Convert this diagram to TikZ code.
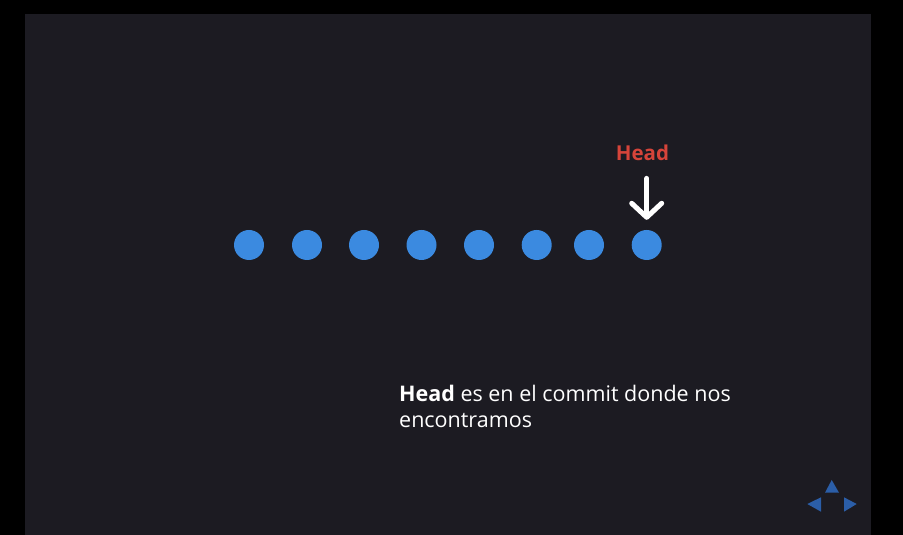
\documentclass[tikz,border=0pt]{standalone}
\usepackage{fontspec}
\setmainfont{Open Sans}
\usetikzlibrary{arrows.meta}
\definecolor{pagebg}{HTML}{000000}
\definecolor{slidebg}{HTML}{1C1B22}
\definecolor{dotblue}{HTML}{3B8AE0}
\definecolor{headred}{HTML}{D6443A}
\definecolor{navblue}{HTML}{2B5EA8}
\begin{document}
\begin{tikzpicture}[x=1pt,y=1pt,
  commit/.style={circle,fill=dotblue,minimum size=30pt,inner sep=0pt},
  navtri/.style={fill=navblue},
  pointer/.style={draw=white,line width=5pt,line cap=round,line join=round,
    -{Straight Barb[length=14pt,width=30pt,round]}},
  bodytext/.style={text=white,font=\fontsize{21.5}{26}\selectfont,anchor=base west,inner sep=0pt,align=left}]
\useasboundingbox (0,0) rectangle (903,535);
\fill[pagebg] (0,0) rectangle (903,535);
\fill[slidebg] (25,0) rectangle (871,521);
% commits
\node[commit] (d1) at (249,290) {};
\node[commit] (d2) at (307,290) {};
\node[commit] (d3) at (364,290) {};
\node[commit] (d4) at (421.5,290) {};
\node[commit] (d5) at (479,290) {};
\node[commit] (d6) at (536.7,290) {};
\node[commit] (d7) at (589,290) {};
\node[commit] (d8) at (646.7,290) {};
% head label and pointer
\node[text=headred,font=\fontsize{20.5}{24}\selectfont\bfseries,anchor=base,inner sep=0pt] (hl) at (642.5,374) {Head};
\draw[pointer] (hl.south -| d8) ++(0,-17) coordinate (ps) (ps) -- ([yshift=10pt]d8.north);
% text
\node[bodytext] (txt) at (399,107) {\textbf{Head} es en el commit donde nos\\encontramos};
% navigation
\fill[navtri] (831.7,55) -- (825,42.3) -- (839,42.3) -- cycle;
\fill[navtri] (807.3,31) -- (821,37.7) -- (821,23.3) -- cycle;
\fill[navtri] (856.7,31) -- (844,37.7) -- (844,23.3) -- cycle;
\end{tikzpicture}
\end{document}
